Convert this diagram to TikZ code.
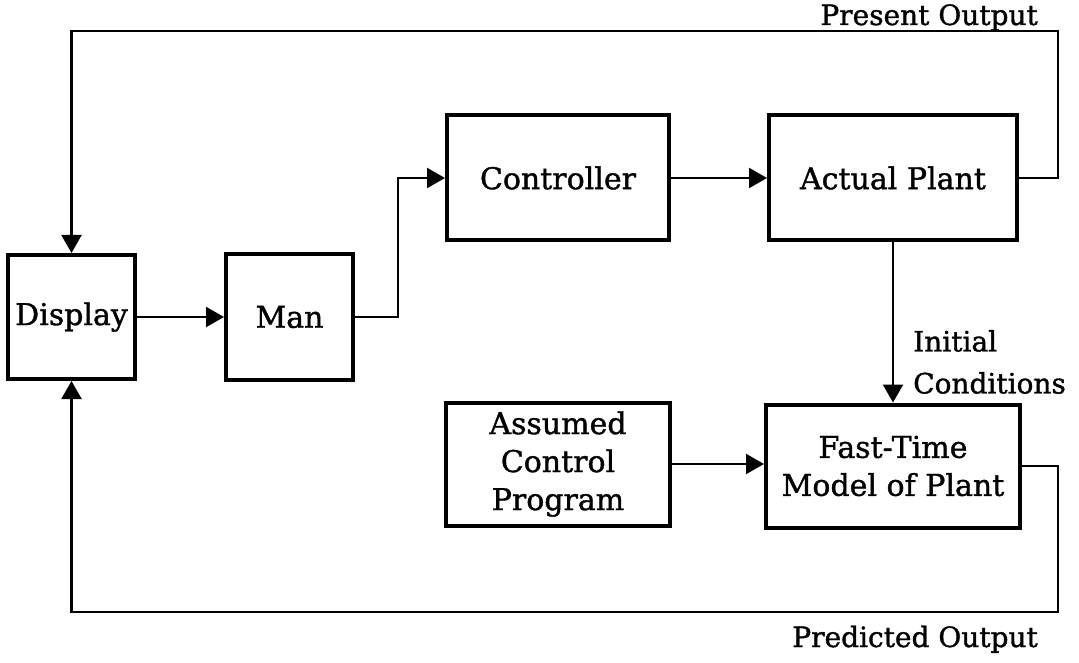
\documentclass[tikz,border=0pt]{standalone}
\usepackage{fontspec}
\setmainfont{DejaVu Serif}[RawFeature={embolden=1.2}]
\usetikzlibrary{arrows.meta}
\begin{document}
\begin{tikzpicture}[x=1pt,y=-1pt,
  block/.style={draw, line width=4pt, inner sep=0pt, align=center,
                font=\fontsize{30}{38}\selectfont},
  link/.style={line width=2.2pt, line join=miter},
  flow/.style={link, -{Triangle[length=18pt,width=20pt]}},
  lbl/.style={inner sep=0pt, font=\fontsize{28}{42}\selectfont}]
\useasboundingbox (0,0) rectangle (1079,663);

% blocks
\node[block, minimum width=127pt, minimum height=124pt] (disp) at (71.5,317) {Display};
\node[block, minimum width=127pt, minimum height=126pt] (man)  at (289.5,317) {Man};
\node[block, minimum width=222pt, minimum height=125pt] (ctrl) at (558,178) {Controller};
\node[block, minimum width=248pt, minimum height=125pt] (act)  at (893,178) {Actual Plant};
\node[block, minimum width=224pt, minimum height=123pt] (asm)  at (558,464) {Assumed\\Control\\Program};
\node[block, minimum width=254pt, minimum height=123pt] (fast) at (893,466) {Fast-Time\\Model of Plant};

% routing points
\coordinate (j1) at (398,0);
\coordinate (po) at (1058,31);
\coordinate (pr) at (1058,612);

% labels
\node[lbl, anchor=base east] (lpo) at (1038,25) {Present Output};
\node[lbl, anchor=base east] (lpr) at (1038,647) {Predicted Output};
\node[lbl, anchor=west, align=left] (lic) at (913,362) {Initial\\Conditions};

% signal paths
\draw[flow] (disp.east) -- (disp.east -| man.west);
\draw[flow] (man.east) -- (man.east -| j1) |- (ctrl.west);
\draw[flow] (ctrl.east) -- (ctrl.east -| act.west);
\draw[flow] (act.east) -| (po) -| (disp.north);
\draw[flow] (act.south) -- (fast.north);
\draw[flow] (asm.east) -- (asm.east -| fast.west);
\draw[flow] (fast.east) -| (pr) -| (disp.south);
\end{tikzpicture}
\end{document}
